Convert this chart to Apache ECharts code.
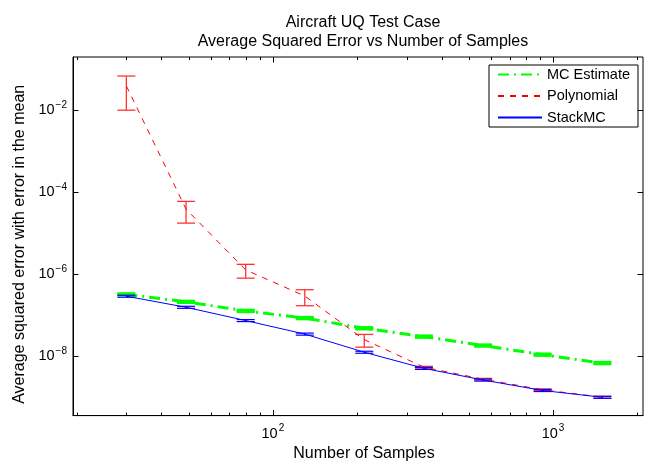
<!DOCTYPE html>
<html><head><meta charset="utf-8">
<script src="https://cdn.jsdelivr.net/npm/echarts@6/dist/echarts.min.js"></script>
<style>html,body{margin:0;padding:0;background:#fff}#c{width:653px;height:467px}</style>
</head><body><div id="c"></div>
<script>
// ---- data ----
const samples   = [30, 49, 80, 130, 212, 346, 563, 918, 1500];
const mcMean    = [3.23e-7, 2.12e-7, 1.27e-7, 8.5e-8, 4.8e-8, 3.0e-8, 1.82e-8, 1.09e-8, 6.8e-9];
const mcErr     = [1.2e-8, 8e-9, 5e-9, 3.3e-9, 1.9e-9, 1.2e-9, 7e-10, 4.3e-10, 2.7e-10];
const polyMean  = [0.039, 3.86e-5, 1.27e-6, 2.94e-7, 2.53e-8, 5.4e-9, 2.75e-9, 1.52e-9, 1.0e-9];
const polyErr   = [0.029, 2.1e-5, 4.7e-7, 1.24e-7, 8.7e-9, 2.5e-10, 1.3e-10, 7e-11, 5e-11];
const stackMean = [2.9e-7, 1.56e-7, 7.4e-8, 3.46e-8, 1.25e-8, 5.06e-9, 2.62e-9, 1.46e-9, 9.95e-10];
const stackErr  = [1.6e-8, 9e-9, 4.2e-9, 2e-9, 7e-10, 2.9e-10, 1.5e-10, 8.5e-11, 5.7e-11];
const seriesNames = ['MC Estimate', 'Polynomial', 'StackMC'];
const xMajorTicks = [100, 1000];
const xMinorTicks = [20, 30, 40, 50, 60, 70, 80, 90, 200, 300, 400, 500, 600, 700, 800, 900, 2000];
const yMajorTicks = [1e-8, 1e-6, 1e-4, 1e-2];
const xMin = 19.35, xMax = 2095, yMin = 3.56e-10, yMax = 0.198;

const FONT = '"Liberation Sans", Arial, Helvetica, sans-serif';

function isMajor(v, list) {
  const e = Math.log10(v);
  return list.some(t => Math.abs(Math.log10(t) - e) < 1e-6);
}
function expLabel(v, list) {
  if (!isMajor(v, list)) return '';
  const r = Math.round(Math.log10(v));
  return '{b|10}{s|' + (r < 0 ? '\u2212' + (-r) : r) + '}';
}
const rich = {
  b: {fontSize: 14.5, fontFamily: FONT, color: '#000'},
  s: {fontSize: 10, fontFamily: FONT, color: '#000', padding: [0, 0, 10, 1]}
};

function errData(mean, err) {
  return samples.map((x, i) => [x, mean[i], mean[i] - err[i], mean[i] + err[i]]);
}
function errSeries(name, mean, err, color, width) {
  return {
    type: 'custom', name: name, silent: true, z: 3,
    data: errData(mean, err),
    encode: {x: 0, y: 1},
    renderItem: function (params, api) {
      const x = api.value(0), lo = api.value(2), hi = api.value(3);
      const p1 = api.coord([x, hi]), p2 = api.coord([x, lo]);
      const hw = 9;
      const st = {stroke: color, lineWidth: width, fill: null};
      return {type: 'group', children: [
        {type: 'line', shape: {x1: p1[0], y1: p1[1], x2: p2[0], y2: p2[1]}, style: st},
        {type: 'line', shape: {x1: p1[0] - hw, y1: p1[1], x2: p1[0] + hw, y2: p1[1]}, style: st},
        {type: 'line', shape: {x1: p2[0] - hw, y1: p2[1], x2: p2[0] + hw, y2: p2[1]}, style: st}
      ]};
    }
  };
}

// tick marks (inside, on all four sides, like the reference box)
const tickData = [];
xMajorTicks.forEach(v => tickData.push([v, 1e-5, 0, 5.5]));
xMinorTicks.forEach(v => tickData.push([v, 1e-5, 0, 3]));
yMajorTicks.forEach(v => tickData.push([100, v, 1, 5.5]));

const tickSeries = {
  type: 'custom', silent: true, z: 10, clip: false,
  data: tickData, encode: {x: 0, y: 1},
  renderItem: function (params, api) {
    const cs = params.coordSys;
    const kind = api.value(2), len = api.value(3);
    const p = api.coord([api.value(0), api.value(1)]);
    const st = {stroke: '#000', lineWidth: 1};
    if (kind === 0) {
      const x = Math.round(p[0]) + 0.5;
      return {type: 'group', children: [
        {type: 'line', shape: {x1: x, y1: cs.y + cs.height, x2: x, y2: cs.y + cs.height - len}, style: st},
        {type: 'line', shape: {x1: x, y1: cs.y, x2: x, y2: cs.y + len}, style: st}
      ]};
    } else {
      const y = Math.round(p[1]) + 0.5;
      return {type: 'group', children: [
        {type: 'line', shape: {x1: cs.x, y1: y, x2: cs.x + len, y2: y}, style: st},
        {type: 'line', shape: {x1: cs.x + cs.width, y1: y, x2: cs.x + cs.width - len, y2: y}, style: st}
      ]};
    }
  }
};

function lineData(mean) { return samples.map((x, i) => [x, mean[i]]); }

const option = {
  animation: false,
  backgroundColor: '#fff',
  textStyle: {fontFamily: FONT},
  title: {
    text: 'Aircraft UQ Test Case\nAverage Squared Error vs Number of Samples',
    left: 358, textAlign: 'center', top: 8,
    textStyle: {fontSize: 16, fontWeight: 'normal', color: '#000', fontFamily: FONT, lineHeight: 19}
  },
  legend: {
    data: seriesNames,
    orient: 'vertical', left: 489, top: 65,
    itemWidth: 44, itemHeight: 14, itemGap: 6.5,
    padding: [2, 8, 2, 8],
    borderColor: '#000', borderWidth: 1, backgroundColor: '#fff',
    itemStyle: {color: 'rgba(0,0,0,0)', borderWidth: 0, opacity: 0},
    textStyle: {fontSize: 14.5, color: '#000', fontFamily: FONT},
    selectedMode: false
  },
  grid: {left: 73, right: 10, top: 57, bottom: 43, show: true, borderColor: '#000', borderWidth: 1, backgroundColor: 'transparent'},
  xAxis: {
    type: 'log', logBase: 10, min: xMin, max: xMax,
    axisLine: {show: true, lineStyle: {color: '#000', width: 1}},
    axisTick: {show: false}, minorTick: {show: false}, splitLine: {show: false},
    axisLabel: {margin: 8, color: '#000', formatter: v => expLabel(v, xMajorTicks), rich: rich},
    name: 'Number of Samples', nameLocation: 'middle', nameGap: 27,
    nameTextStyle: {fontSize: 16, color: '#000', fontFamily: FONT, padding: [0, 0, 0, 12]}
  },
  yAxis: {
    type: 'log', logBase: 10, min: yMin, max: yMax,
    axisLine: {show: true, lineStyle: {color: '#000', width: 1}},
    axisTick: {show: false}, minorTick: {show: false}, splitLine: {show: false},
    axisLabel: {margin: 6, color: '#000', formatter: v => expLabel(v, yMajorTicks), rich: rich},
    name: 'Average squared error with error in the mean', nameLocation: 'middle', nameGap: 45,
    nameTextStyle: {fontSize: 16, color: '#000', fontFamily: FONT, padding: [0, 16, 0, 0]}
  },
  series: [
    {type: 'line', name: seriesNames[0], data: lineData(mcMean), symbol: 'none', z: 2,
     lineStyle: {color: '#00ff00', width: 3, type: [11, 5, 2, 5]}, itemStyle: {color: '#00ff00'}},
    errSeries('mcErr', mcMean, mcErr, '#00ff00', 3),
    {type: 'line', name: seriesNames[1], data: lineData(polyMean), symbol: 'none', z: 4,
     lineStyle: {color: '#ff0000', width: 1, type: [6, 6]}, itemStyle: {color: '#ff0000'}},
    errSeries('polyErr', polyMean, polyErr, '#ff3333', 1.3),
    {type: 'line', name: seriesNames[2], data: lineData(stackMean), symbol: 'none', z: 6,
     lineStyle: {color: '#0000ff', width: 1}, itemStyle: {color: '#0000ff'}},
    errSeries('stackErr', stackMean, stackErr, '#0000ff', 1.2),
    tickSeries
  ]
};
const chart = echarts.init(document.getElementById('c'), null, {renderer: 'canvas'});
chart.setOption(option);
</script>
</body></html>
